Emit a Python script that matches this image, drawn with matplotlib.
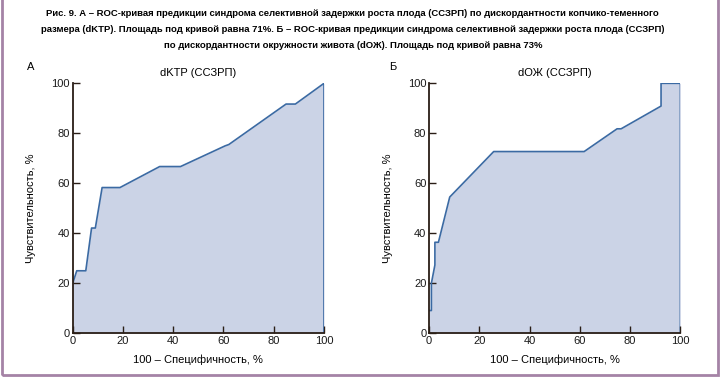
import matplotlib.pyplot as plt
from matplotlib.patches import Rectangle

plt.rcParams['font.family'] = ['Liberation Sans', 'DejaVu Sans']

# ROC curve A: dKTP
fpr_a = [0, 1.6, 5.2, 7.5, 9.0, 11.7, 18.8, 34.6, 42.9, 60.7, 62.1, 84.9, 88.6, 100, 100]
tpr_a = [20, 25, 25, 42.1, 42.1, 58.3, 58.3, 66.7, 66.7, 75, 75.5, 91.7, 91.7, 100, 0]

# ROC curve Б: dОЖ
fpr_b = [0, 0.9, 0.9, 2.3, 2.3, 3.7, 8.2, 25.7, 61.7, 74.8, 76.4, 92.3, 92.3, 100, 100]
tpr_b = [9.1, 9.1, 20, 27.3, 36.4, 36.4, 54.5, 72.7, 72.7, 81.8, 81.8, 90.9, 100, 100, 0]

ticks = [0, 20, 40, 60, 80, 100]

title = ("Рис. 9. А – ROC-кривая предикции синдрома селективной задержки роста плода (ССЗРП) по дискордантности копчико-теменного\n"
         "размера (dKTP). Площадь под кривой равна 71%. Б – ROC-кривая предикции синдрома селективной задержки роста плода (ССЗРП)\n"
         "по дискордантности окружности живота (dОЖ). Площадь под кривой равна 73%")

line_c = '#3b6aa3'
fill_c = '#cbd3e6'
spine_c = '#2a1e16'

fig = plt.figure(figsize=(7.2, 3.77), dpi=100)

fig.text(0.49, 0.975, title, ha='center', va='top', fontsize=6.8,
         fontweight='bold', linespacing=1.95)

panels = [
    (0.101, fpr_a, tpr_a, 'dKTP (ССЗРП)', 'А', 0.042),
    (0.596, fpr_b, tpr_b, 'dОЖ (ССЗРП)', 'Б', 0.546),
]

for left, fx, ty, sub, letter, lx in panels:
    ax = fig.add_axes([left, 0.116, 0.349, 0.663])
    ax.fill_between(fx, ty, 0, color=fill_c, lw=0)
    ax.plot(fx, ty, color=line_c, lw=1.2)
    ax.set_xlim(0, 100)
    ax.set_ylim(0, 100)
    ax.set_xticks(ticks)
    ax.set_yticks(ticks)
    for s in ['top', 'right']:
        ax.spines[s].set_visible(False)
    for s in ['left', 'bottom']:
        ax.spines[s].set_color(spine_c)
        ax.spines[s].set_linewidth(1.3)
        ax.spines[s].set_zorder(5)
    ax.tick_params(direction='in', length=5, width=1, color=spine_c,
                   labelsize=8, labelcolor='#1a1a1a', pad=2)
    ax.set_xlabel('100 – Специфичность, %', fontsize=8, labelpad=6)
    ax.set_ylabel('Чувствительность, %', fontsize=8, labelpad=11)
    ax.set_title(sub, fontsize=8, pad=5)
    fig.text(lx, 0.822, letter, fontsize=8, ha='center', va='center')

# purple frame
fig.add_artist(Rectangle((0.003, 0.006), 0.994, 1.2, transform=fig.transFigure,
                         fill=False, edgecolor='#a583a6', lw=2))

fig.savefig('out.png', dpi=100)
